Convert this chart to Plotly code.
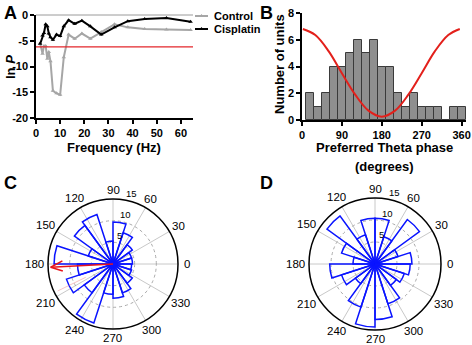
import math
import plotly.graph_objects as go

W, H = 472, 345
FONT = "Arial, Liberation Sans, Helvetica, sans-serif"

# ---------------- Panel A data ----------------
freq = [1.7, 2.7, 3.3, 4.0, 4.7, 5.3, 6.0, 7.0, 8.5, 10.0, 11.5, 13.5, 16.0, 19.0,
        22.5, 27.0, 32.5, 38.0, 45.0, 54.0, 64.0]
lnp_control = [-5.5, -7.5, -6.0, -6.0, -8.5, -7.2, -9.0, -14.7, -15.2, -15.5, -8.2,
               -3.8, -4.6, -3.6, -4.6, -3.3, -1.8, -2.4, -2.7, -2.8, -2.9]
lnp_cisplatin = [-5.6, -4.0, -3.5, -1.8, -2.2, -3.6, -4.3, -4.8, -3.8, -4.1, -2.2,
                 -1.0, -1.7, -1.1, -2.2, -3.8, -2.4, -1.2, -0.8, -0.6, -1.3]
sig_level = -6.2
freq_span = [0, 65]

# ---------------- Panel B data ----------------
phase_centers = [18, 36, 54, 72, 90, 108, 126, 144, 162, 180, 198, 216, 234, 252,
                 270, 288, 306, 324, 342, 360]
unit_counts = [2, 1, 2, 4, 4, 5, 6, 5, 6, 4, 4, 2, 1, 2, 1, 1, 1, 0, 1, 1]
fit_phase = [2, 30, 60, 90, 120, 150, 180, 210, 240, 270, 300, 330, 356]
fit_value = [6.8, 6.35, 5.15, 3.5, 1.9, 0.7, 0.25, 0.7, 1.9, 3.5, 5.15, 6.35, 6.8]

# ---------------- Panel C / D data (rose, 18-degree bins) ----------------
rose_centers = [9, 27, 45, 63, 81, 99, 117, 135, 153, 171, 189, 207, 225, 243,
                261, 279, 297, 315, 333, 351]
rose_c = [4.5, 4.5, 5.5, 7.6, 9.7, 5.3, 12, 11, 6, 13.6, 8.2, 11.3, 8.2, 14.3,
          7, 7.9, 7, 5.5, 4.5, 4.3]
rose_d = [8.4, 5.5, 12.5, 6.5, 10.4, 10.4, 7, 13.5, 8, 5, 10.3, 8, 5.5, 10.3,
          14.3, 12.6, 9.5, 6, 7, 8]
mean_angle_c = 183
mean_len_c = 14.4
ci_angle_c = 206
ci_len_c = 14.2
angle_ticks = [0, 30, 60, 90, 120, 150, 180, 210, 240, 270, 300, 330]
ring_ticks = [5, 10, 15]
r_max = 15

fig = go.Figure()

def px(x):
    return x / W

def py(y):
    return 1 - y / H

# ---- Panel A traces ----
fig.add_trace(go.Scatter(x=freq, y=lnp_control, mode="lines+markers",
                         line=dict(color="#a6a6a6", width=2),
                         marker=dict(symbol="triangle-up", size=4, color="#a6a6a6"),
                         showlegend=False, xaxis="x", yaxis="y"))
fig.add_trace(go.Scatter(x=freq, y=lnp_cisplatin, mode="lines+markers",
                         line=dict(color="black", width=2),
                         marker=dict(symbol="triangle-up", size=4, color="black"),
                         showlegend=False, xaxis="x", yaxis="y"))
fig.add_trace(go.Scatter(x=freq_span, y=[sig_level, sig_level], mode="lines",
                         line=dict(color="#e3262b", width=1.2),
                         showlegend=False, xaxis="x", yaxis="y"))

# ---- Panel B traces ----
fig.add_trace(go.Bar(x=phase_centers, y=unit_counts, width=18,
                     marker=dict(color="#8f8f8f", line=dict(color="#3a3a3a", width=1)),
                     showlegend=False, xaxis="x2", yaxis="y2"))
fig.add_trace(go.Scatter(x=fit_phase, y=fit_value, mode="lines",
                         line=dict(color="#e3201b", width=2, shape="spline"),
                         showlegend=False, xaxis="x2", yaxis="y2"))

# ---- Panel C / D rose plots ----
rose_marker = dict(color="rgba(0,0,0,0)", line=dict(color="#0a14ff", width=1.5))
fig.add_trace(go.Barpolar(r=rose_c, theta=rose_centers, width=18, marker=rose_marker,
                          showlegend=False, subplot="polar"))
fig.add_trace(go.Barpolar(r=rose_d, theta=rose_centers, width=18, marker=rose_marker,
                          showlegend=False, subplot="polar2"))
# faint confidence line and mean-vector arrow in C
fig.add_trace(go.Scatterpolar(r=[7, ci_len_c], theta=[ci_angle_c, ci_angle_c], mode="lines",
                              line=dict(color="rgba(240,120,120,0.45)", width=1),
                              showlegend=False, subplot="polar"))
head = 2.7
fig.add_trace(go.Scatterpolar(
    r=[0, mean_len_c, None, mean_len_c - head, mean_len_c, mean_len_c - head],
    theta=[mean_angle_c, mean_angle_c, None, mean_angle_c - 6.5, mean_angle_c, mean_angle_c + 5],
    mode="lines", line=dict(color="#e8141b", width=1.5),
    showlegend=False, subplot="polar"))

# ---- manual legend on an overlay pixel axis ----
leg_y = [16, 29]
leg_col = ["#a6a6a6", "black"]
for yy, cc in zip(leg_y, leg_col):
    fig.add_trace(go.Scatter(x=[195, 208], y=[yy, yy], mode="lines", line=dict(color=cc, width=2),
                             showlegend=False, xaxis="x3", yaxis="y3", hoverinfo="skip"))
    fig.add_trace(go.Scatter(x=[201.5], y=[yy], mode="markers",
                             marker=dict(symbol="triangle-up", size=4, color=cc),
                             showlegend=False, xaxis="x3", yaxis="y3", hoverinfo="skip"))

tickfont = dict(family=FONT, size=11, color="black", weight="bold")
axis_common = dict(showgrid=False, zeroline=False, showline=True, linecolor="black",
                   linewidth=1.5, ticks="outside", ticklen=4, tickwidth=1.5,
                   tickcolor="black", tickfont=tickfont, automargin=False)

polar_common = dict(
    bgcolor="white",
    angularaxis=dict(direction="counterclockwise", rotation=0, tickmode="array",
                     tickvals=angle_ticks, showticklabels=False,
                     ticks="", showline=True, linecolor="black", linewidth=1.5,
                     showgrid=True, gridcolor="#c8c8c8", gridwidth=1),
    radialaxis=dict(range=[0, r_max], tickvals=ring_ticks, angle=80,
                    showline=False, showticklabels=False, ticks="", showgrid=True,
                    gridcolor="#aaaaaa", griddash="dot", gridwidth=1),
)

fig.update_layout(
    template="none",
    width=W, height=H, autosize=False,
    margin=dict(l=0, r=0, t=0, b=0, pad=0),
    paper_bgcolor="white", plot_bgcolor="rgba(0,0,0,0)",
    font=dict(family=FONT, color="black"),
    showlegend=False,
    bargap=0,
    xaxis=dict(domain=[px(36), px(193)], range=freq_span, tickvals=[0, 10, 20, 30, 40, 50, 60],
               anchor="y", **axis_common),
    yaxis=dict(domain=[py(118), py(15)], range=[-20, 0], tickvals=[0, -5, -10, -15, -20],
               ticktext=["0", "-5", "-10", "-15", "-20"], anchor="x", **axis_common),
    xaxis2=dict(domain=[px(302), px(466)], range=[0, 370], tickvals=[0, 90, 180, 270, 360],
                anchor="y2", **axis_common),
    yaxis2=dict(domain=[py(120), py(13)], range=[0, 8], tickvals=[0, 2, 4, 6, 8],
                anchor="x2", **axis_common),
    xaxis3=dict(domain=[0, 1], range=[0, W], visible=False, fixedrange=True, anchor="y3",
                automargin=False),
    yaxis3=dict(domain=[0, 1], range=[H, 0], visible=False, fixedrange=True, anchor="x3",
                automargin=False),
    polar=dict(domain=dict(x=[px(48), px(178)], y=[py(329), py(199)]), **polar_common),
    polar2=dict(domain=dict(x=[px(309), px(441)], y=[py(330), py(198)]), **polar_common),
)

# top border for panel A
fig.add_shape(type="line", xref="x domain", yref="y domain", x0=0, x1=1, y0=1, y1=1,
              line=dict(color="#9a9a9a", width=1))

def ann(text, x, y, size=13, bold=True, angle=0, xanchor="center", yanchor="middle"):
    fig.add_annotation(text=text, x=px(x), y=py(y), xref="paper", yref="paper",
                       showarrow=False, textangle=angle, xanchor=xanchor, yanchor=yanchor,
                       font=dict(family=FONT, size=size, color="black",
                                 weight="bold" if bold else "normal"))

# polar tick labels placed MATLAB-style around each rose
polar_centres = [((48 + 178) / 2, (199 + 329) / 2, 65), ((309 + 441) / 2, (198 + 330) / 2, 66)]
for cx, cy, rad in polar_centres:
    scale = rad / r_max
    for a in angle_ticks:
        lab = str(a)
        rr = 17.1 + 0.5 * (len(lab) - 1) * abs(math.cos(math.radians(a)))
        ann(lab, cx + rr * scale * math.cos(math.radians(a)),
            cy - rr * scale * math.sin(math.radians(a)), size=11.5, bold=False)
    for v, a in zip(ring_ticks, [78, 76, 75]):
        rr = v + 1.8
        ann(str(v), cx + rr * scale * math.cos(math.radians(a)),
            cy - rr * scale * math.sin(math.radians(a)), size=9.5, bold=False)

# panel letters
ann("A", 2, 1, size=18, xanchor="left", yanchor="top")
ann("B", 258, 1, size=18, xanchor="left", yanchor="top")
ann("C", 2, 171, size=18, xanchor="left", yanchor="top")
ann("D", 258, 171, size=18, xanchor="left", yanchor="top")

# axis titles
ann("ln <i>P</i>", 10, 67, size=13, angle=-90)
ann("Frequency (Hz)", 114, 147, size=13)
ann("Number of units", 279, 64, size=13, angle=-90)
ann("Preferred Theta phase", 384, 147, size=13)
ann("(degrees)", 384, 166, size=13)

# legend text
ann("Control", 212, 16, size=11, xanchor="left")
ann("Cisplatin", 212, 29, size=11, xanchor="left")

fig.write_html("out.html", config={"displayModeBar": False},
               post_script="document.body.style.margin='0';document.body.style.overflow='hidden';")
